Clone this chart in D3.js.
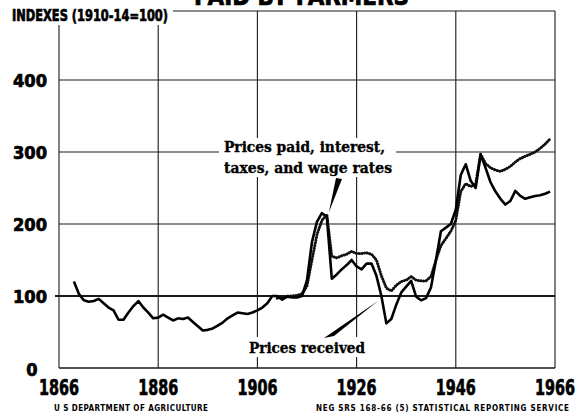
<!DOCTYPE html>
<html lang="en">
<head>
  <meta charset="UTF-8">
  <title>Prices received and prices paid by farmers</title>
  <style>
    html,
    body {
      margin: 0;
      background: #fff;
    }

    .cond {
      font-family: "DejaVu Sans", "Liberation Sans", sans-serif;
      font-stretch: condensed;
      font-weight: bold;
    }

    .heavy {
      stroke: #000;
      stroke-width: 0.7px;
    }

    .serif {
      font-family: "DejaVu Serif", "Liberation Serif", serif;
      font-weight: bold;
      stroke: #000;
      stroke-width: 0.35px;
    }
  </style>
</head>
<body>
  <div id="main"></div>
  <script src="https://cdn.jsdelivr.net/npm/d3@7"></script>
  <script>
    // 数据
    const receivedYears = d3.range(1869, 1966)
    const receivedValues = [
      120, 103, 94, 92, 93, 96, 90, 84, 80, 67,
      67, 77, 86, 93, 84, 77, 69, 70, 74, 70,
      66, 69, 68, 70, 64, 58, 52, 53, 55, 59,
      63, 69, 73, 77, 76, 75, 77, 80, 84, 90,
      100, 100, 95, 99, 98, 98, 100, 122, 175, 203,
      215, 210, 124, 130, 137, 143, 150, 141, 137, 145,
      145, 128, 100, 62, 68, 88, 105, 113, 121, 99,
      94, 97, 112, 150, 190, 195, 200, 220, 268, 283,
      260, 250, 296, 278, 258, 245, 235, 227, 232, 246,
      239, 235, 237, 239, 240, 242, 245
    ]
    const paidYears = d3.range(1910, 1966)
    const paidValues = [
      97, 98, 100, 100, 101, 103, 114, 150, 185, 205,
      213, 155, 153, 156, 158, 162, 159, 159, 160, 158,
      150, 128, 111, 107, 115, 120, 122, 127, 122, 121,
      121, 127, 150, 170, 180, 190, 205, 245, 256, 252,
      255, 297, 284, 278, 275, 273, 276, 280, 286, 291,
      294, 297, 300, 305, 311, 318
    ]
    const xTicks = [1866, 1886, 1906, 1926, 1946, 1966]
    const yTicks = [0, 100, 200, 300, 400]

    const W = 587
    const H = 417
    const svg = d3.select('#main').append('svg').attr('width', W).attr('height', H)

    const x = d3.scaleLinear().domain([1866, 1966]).range([59, 555])
    const y = d3.scaleLinear().domain([0, 400]).range([368, 80])
    const frameTop = 11

    // 网格
    const grid = svg.append('g').attr('stroke', '#1a1a1a').attr('fill', 'none')
    grid.selectAll('.v')
      .data(xTicks)
      .join('line')
      .attr('x1', d => x(d)).attr('x2', d => x(d))
      .attr('y1', frameTop).attr('y2', y(0))
      .attr('stroke-width', 1.1)
    grid.selectAll('.h')
      .data(yTicks.filter(d => d !== 100))
      .join('line')
      .attr('x1', x(1866)).attr('x2', x(1966))
      .attr('y1', d => y(d)).attr('y2', d => y(d))
      .attr('stroke-width', d => d === 0 ? 1.6 : 1.1)
    grid.append('line')
      .attr('x1', 55).attr('x2', x(1966))
      .attr('y1', y(100)).attr('y2', y(100))
      .attr('stroke-width', 2)
    grid.append('line')
      .attr('x1', 173).attr('x2', x(1966))
      .attr('y1', frameTop).attr('y2', frameTop)
      .attr('stroke-width', 1.1)

    // 曲线
    const line = d3.line().x(d => x(d[0])).y(d => y(d[1]))
    const received = receivedYears.map((yr, i) => [yr, receivedValues[i]])
    const paid = paidYears.map((yr, i) => [yr, paidValues[i]])

    svg.append('path')
      .datum(paid)
      .attr('d', line)
      .attr('fill', 'none')
      .attr('stroke', '#111')
      .attr('stroke-width', 1.2)
      .attr('stroke-linejoin', 'round')
    svg.append('path')
      .datum(paid)
      .attr('d', line)
      .attr('fill', 'none')
      .attr('stroke', '#111')
      .attr('stroke-width', 3)
      .attr('stroke-linecap', 'round')
      .attr('stroke-dasharray', '0.1,2.6')

    svg.append('path')
      .datum(received)
      .attr('d', line)
      .attr('fill', 'none')
      .attr('stroke', '#000')
      .attr('stroke-width', 2.6)
      .attr('stroke-linejoin', 'round')

    // 坐标文字
    svg.selectAll('.xl')
      .data(xTicks)
      .join('text')
      .attr('class', 'cond heavy')
      .attr('x', d => x(d))
      .attr('y', 395)
      .attr('text-anchor', 'middle')
      .attr('font-size', 22)
      .attr('textLength', 40)
      .attr('lengthAdjust', 'spacingAndGlyphs')
      .text(d => d)

    svg.selectAll('.yl')
      .data(yTicks.filter(d => d > 0))
      .join('text')
      .attr('class', 'cond heavy')
      .attr('x', 47)
      .attr('y', d => y(d) + 6.5)
      .attr('text-anchor', 'end')
      .attr('font-size', 18)
      .attr('textLength', 34)
      .attr('lengthAdjust', 'spacingAndGlyphs')
      .text(d => d)
    svg.append('text')
      .attr('class', 'cond heavy')
      .attr('x', 32)
      .attr('y', 376)
      .attr('text-anchor', 'middle')
      .attr('font-size', 18)
      .text('0')

    // 标题
    svg.append('rect').attr('x', 8).attr('y', 0).attr('width', 164).attr('height', 25).attr('fill', '#fff')
    svg.append('text')
      .attr('class', 'cond heavy')
      .attr('x', 12).attr('y', 21)
      .attr('font-size', 16)
      .attr('textLength', 156)
      .attr('lengthAdjust', 'spacingAndGlyphs')
      .text('INDEXES (1910-14=100)')
    svg.append('text')
      .attr('class', 'cond heavy')
      .attr('x', 194).attr('y', 5)
      .attr('font-size', 24)
      .attr('textLength', 215)
      .attr('lengthAdjust', 'spacingAndGlyphs')
      .text('PAID BY FARMERS')

    // 注释
    svg.append('rect').attr('x', 219).attr('y', 138).attr('width', 177).attr('height', 39).attr('fill', '#fff')
    svg.append('text')
      .attr('class', 'serif')
      .attr('x', 224).attr('y', 152)
      .attr('font-size', 15)
      .attr('textLength', 161)
      .attr('lengthAdjust', 'spacingAndGlyphs')
      .text('Prices paid, interest,')
    svg.append('text')
      .attr('class', 'serif')
      .attr('x', 224).attr('y', 173)
      .attr('font-size', 15)
      .attr('textLength', 168)
      .attr('lengthAdjust', 'spacingAndGlyphs')
      .text('taxes, and wage rates')

    svg.append('rect').attr('x', 245).attr('y', 337).attr('width', 124).attr('height', 20).attr('fill', '#fff')
    svg.append('text')
      .attr('class', 'serif')
      .attr('x', 249).attr('y', 353)
      .attr('font-size', 15)
      .attr('textLength', 116)
      .attr('lengthAdjust', 'spacingAndGlyphs')
      .text('Prices received')

    // 指针
    const tipPaid = [x(1920.4), y(216)]
    const tipRec = [x(1930.3), y(93)]
    svg.append('path')
      .attr('d', d3.line()([[336, 178], [342, 179], tipPaid]) + 'Z')
      .attr('fill', '#000')
    svg.append('path')
      .attr('d', d3.line()([[324, 338], [334, 336], tipRec]) + 'Z')
      .attr('fill', '#000')

    // 页脚
    svg.append('text')
      .attr('class', 'cond')
      .attr('x', 54).attr('y', 411)
      .attr('font-size', 8)
      .attr('textLength', 154)
      .attr('lengthAdjust', 'spacing')
      .text('U S  DEPARTMENT OF AGRICULTURE')
    svg.append('text')
      .attr('class', 'cond')
      .attr('x', 316).attr('y', 411)
      .attr('font-size', 8)
      .attr('textLength', 253)
      .attr('lengthAdjust', 'spacing')
      .text('NEG  SRS 168-66 (5)   STATISTICAL REPORTING SERVICE')
  </script>
</body>
</html>
